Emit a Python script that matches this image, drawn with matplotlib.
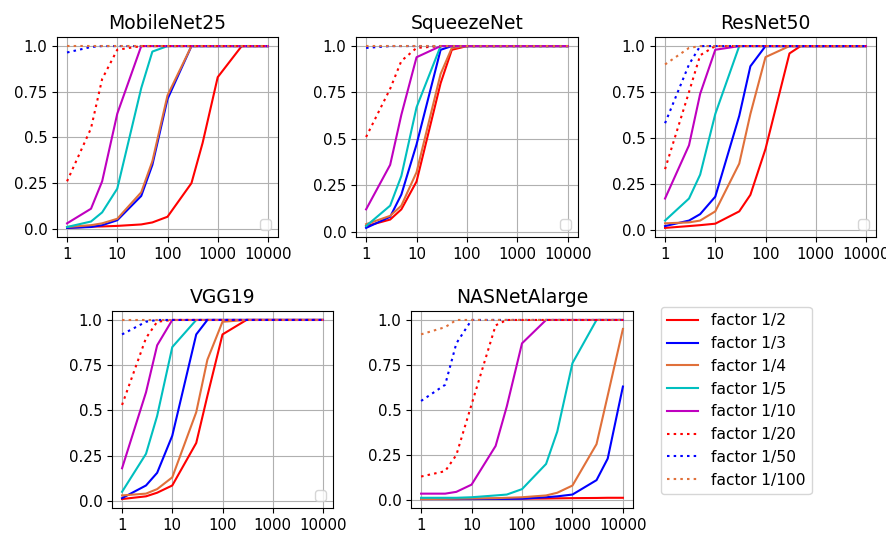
import matplotlib
matplotlib.use("Agg")
import matplotlib.pyplot as plt
from matplotlib.lines import Line2D

x = [1, 3, 5, 10, 30, 50, 100, 300, 500, 1000, 3000, 5000, 10000]

labels = ["factor 1/2", "factor 1/3", "factor 1/4", "factor 1/5", "factor 1/10",
          "factor 1/20", "factor 1/50", "factor 1/100"]
colors = ["#ff0000", "#0000ff", "#e0703a", "#00bfbf", "#bf00bf", "#ff0000", "#0000ff", "#e0703a"]
dots = (0, (1.2, 2.0))
styles = ["-", "-", "-", "-", "-", dots, dots, dots]

mobilenet = [
    [0.005, 0.012, 0.013, 0.016, 0.024, 0.035, 0.066, 0.25, 0.47, 0.83, 1.0, 1.0, 1.0],
    [0.005, 0.01, 0.02, 0.047, 0.18, 0.35, 0.71, 1.0, 1.0, 1.0, 1.0, 1.0, 1.0],
    [0.01, 0.02, 0.03, 0.055, 0.2, 0.37, 0.73, 1.0, 1.0, 1.0, 1.0, 1.0, 1.0],
    [0.01, 0.04, 0.09, 0.22, 0.77, 0.97, 1.0, 1.0, 1.0, 1.0, 1.0, 1.0, 1.0],
    [0.03, 0.11, 0.26, 0.63, 1.0, 1.0, 1.0, 1.0, 1.0, 1.0, 1.0, 1.0, 1.0],
    [0.26, 0.55, 0.82, 0.98, 1.0, 1.0, 1.0, 1.0, 1.0, 1.0, 1.0, 1.0, 1.0],
    [0.965, 0.995, 1.0, 1.0, 1.0, 1.0, 1.0, 1.0, 1.0, 1.0, 1.0, 1.0, 1.0],
    [1.0, 1.0, 1.0, 1.0, 1.0, 1.0, 1.0, 1.0, 1.0, 1.0, 1.0, 1.0, 1.0],
]
squeezenet = [
    [0.03, 0.065, 0.12, 0.27, 0.8, 0.98, 1.0, 1.0, 1.0, 1.0, 1.0, 1.0, 1.0],
    [0.02, 0.08, 0.2, 0.47, 0.98, 1.0, 1.0, 1.0, 1.0, 1.0, 1.0, 1.0, 1.0],
    [0.04, 0.085, 0.14, 0.32, 0.85, 0.99, 1.0, 1.0, 1.0, 1.0, 1.0, 1.0, 1.0],
    [0.03, 0.14, 0.3, 0.67, 1.0, 1.0, 1.0, 1.0, 1.0, 1.0, 1.0, 1.0, 1.0],
    [0.12, 0.36, 0.63, 0.94, 1.0, 1.0, 1.0, 1.0, 1.0, 1.0, 1.0, 1.0, 1.0],
    [0.51, 0.77, 0.92, 0.99, 1.0, 1.0, 1.0, 1.0, 1.0, 1.0, 1.0, 1.0, 1.0],
    [0.99, 1.0, 1.0, 1.0, 1.0, 1.0, 1.0, 1.0, 1.0, 1.0, 1.0, 1.0, 1.0],
    [1.0, 1.0, 1.0, 1.0, 1.0, 1.0, 1.0, 1.0, 1.0, 1.0, 1.0, 1.0, 1.0],
]
resnet = [
    [0.01, 0.02, 0.025, 0.033, 0.1, 0.19, 0.44, 0.96, 1.0, 1.0, 1.0, 1.0, 1.0],
    [0.02, 0.05, 0.085, 0.18, 0.62, 0.89, 1.0, 1.0, 1.0, 1.0, 1.0, 1.0, 1.0],
    [0.035, 0.04, 0.05, 0.1, 0.36, 0.63, 0.94, 1.0, 1.0, 1.0, 1.0, 1.0, 1.0],
    [0.05, 0.17, 0.3, 0.63, 1.0, 1.0, 1.0, 1.0, 1.0, 1.0, 1.0, 1.0, 1.0],
    [0.17, 0.46, 0.74, 0.98, 1.0, 1.0, 1.0, 1.0, 1.0, 1.0, 1.0, 1.0, 1.0],
    [0.33, 0.75, 0.95, 1.0, 1.0, 1.0, 1.0, 1.0, 1.0, 1.0, 1.0, 1.0, 1.0],
    [0.58, 0.9, 1.0, 1.0, 1.0, 1.0, 1.0, 1.0, 1.0, 1.0, 1.0, 1.0, 1.0],
    [0.9, 0.99, 1.0, 1.0, 1.0, 1.0, 1.0, 1.0, 1.0, 1.0, 1.0, 1.0, 1.0],
]
vgg19 = [
    [0.01, 0.025, 0.045, 0.085, 0.32, 0.58, 0.92, 1.0, 1.0, 1.0, 1.0, 1.0, 1.0],
    [0.015, 0.085, 0.155, 0.36, 0.92, 1.0, 1.0, 1.0, 1.0, 1.0, 1.0, 1.0, 1.0],
    [0.03, 0.04, 0.065, 0.13, 0.49, 0.78, 0.99, 1.0, 1.0, 1.0, 1.0, 1.0, 1.0],
    [0.05, 0.26, 0.47, 0.85, 1.0, 1.0, 1.0, 1.0, 1.0, 1.0, 1.0, 1.0, 1.0],
    [0.18, 0.6, 0.86, 1.0, 1.0, 1.0, 1.0, 1.0, 1.0, 1.0, 1.0, 1.0, 1.0],
    [0.53, 0.9, 0.99, 1.0, 1.0, 1.0, 1.0, 1.0, 1.0, 1.0, 1.0, 1.0, 1.0],
    [0.92, 0.99, 1.0, 1.0, 1.0, 1.0, 1.0, 1.0, 1.0, 1.0, 1.0, 1.0, 1.0],
    [1.0, 1.0, 1.0, 1.0, 1.0, 1.0, 1.0, 1.0, 1.0, 1.0, 1.0, 1.0, 1.0],
]
nasnet = [
    [0.005, 0.005, 0.005, 0.006, 0.006, 0.007, 0.007, 0.008, 0.009, 0.01, 0.011, 0.012, 0.012],
    [0.005, 0.005, 0.005, 0.005, 0.006, 0.006, 0.007, 0.015, 0.02, 0.03, 0.11, 0.23, 0.63],
    [0.005, 0.006, 0.007, 0.008, 0.01, 0.012, 0.015, 0.025, 0.04, 0.08, 0.31, 0.58, 0.95],
    [0.012, 0.012, 0.012, 0.015, 0.025, 0.03, 0.06, 0.2, 0.38, 0.76, 1.0, 1.0, 1.0],
    [0.035, 0.035, 0.045, 0.085, 0.3, 0.52, 0.87, 1.0, 1.0, 1.0, 1.0, 1.0, 1.0],
    [0.13, 0.16, 0.25, 0.53, 0.97, 1.0, 1.0, 1.0, 1.0, 1.0, 1.0, 1.0, 1.0],
    [0.55, 0.64, 0.87, 1.0, 1.0, 1.0, 1.0, 1.0, 1.0, 1.0, 1.0, 1.0, 1.0],
    [0.92, 0.96, 1.0, 1.0, 1.0, 1.0, 1.0, 1.0, 1.0, 1.0, 1.0, 1.0, 1.0],
]

titles = ["MobileNet25", "SqueezeNet", "ResNet50", "VGG19", "NASNetAlarge"]
datasets = [mobilenet, squeezenet, resnet, vgg19, nasnet]
xticks = [1, 10, 100, 1000, 10000]
xticklabels = ["1", "10", "100", "1000", "10000"]
yticks = [0.0, 0.25, 0.5, 0.75, 1.0]
yticklabels = ["0.0", "0.25", "0.5", "0.75", "1.0"]

W, H = 886, 534
fig = plt.figure(figsize=(W / 100, H / 100), dpi=100)

# axes boxes in pixels: (left, top, right, bottom)
boxes = [(57, 37, 278, 237), (356, 37, 578, 237), (655, 37, 876, 237),
         (112, 311, 333, 508), (411, 311, 633, 508)]
empty_legend = [True, True, True, True, False]

for title, data, box, el in zip(titles, datasets, boxes, empty_legend):
    l, t, r, b = box
    ax = fig.add_axes([l / W, 1 - b / H, (r - l) / W, (b - t) / H])
    for ys, c, s in zip(data, colors, styles):
        ax.plot(x, ys, color=c, linestyle=s, linewidth=1.5)
    ax.set_xscale("log")
    ax.set_xticks(xticks)
    ax.set_xticklabels(xticklabels)
    ax.minorticks_off()
    ax.set_yticks(yticks)
    ax.set_yticklabels(yticklabels)
    ax.tick_params(labelsize=10.8)
    ax.grid(True, color="#b0b0b0", linewidth=0.8)
    ax.set_title(title, fontsize=13.5)
    if el:
        ax.legend(handles=[], loc="lower right")

handles = [Line2D([], [], color=c, linestyle=s, linewidth=1.5) for c, s in zip(colors, styles)]
fig.legend(handles, labels, loc="upper left",
           bbox_to_anchor=(661 / W, 1 - 307 / H), fontsize=11.2,
           borderaxespad=0.0)

fig.savefig("out.png", dpi=100)
